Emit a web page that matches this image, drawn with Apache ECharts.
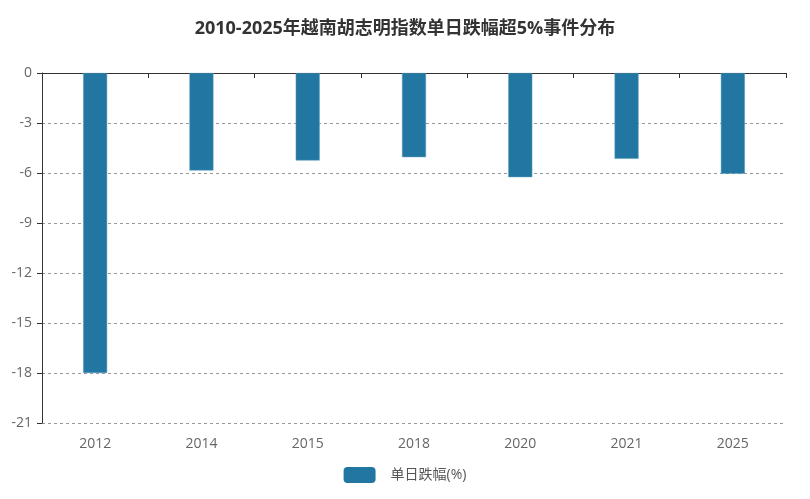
<!DOCTYPE html>
<html>
<head>
<meta charset="utf-8">
<script src="https://cdn.jsdelivr.net/npm/echarts@6/dist/echarts.min.js"></script>
<style>html,body{margin:0;padding:0;background:#fff}#c{width:810px;height:499px}</style>
</head>
<body>
<div id="c"></div>
<script>
var categories = ['2012', '2014', '2015', '2018', '2020', '2021', '2025'];
var dropValues = [-18.0, -5.85, -5.25, -5.05, -6.25, -5.15, -6.05];
var seriesName = '单日跌幅(%)';
var titleText = '2010-2025年越南胡志明指数单日跌幅超5%事件分布';

var chart = echarts.init(document.getElementById('c'));
chart.setOption({
  animation: false,
  textStyle: {fontFamily: '"Open Sans", "Noto Sans CJK SC", sans-serif'},
  title: {
    text: titleText,
    left: 'center',
    top: 15,
    textStyle: {fontSize: 18, fontWeight: 'bold', color: '#333', fontFamily: '"Open Sans", "Noto Sans CJK SC", sans-serif'}
  },
  legend: {
    bottom: 11,
    left: 'center',
    itemWidth: 32,
    itemHeight: 16,
    itemGap: 10,
    itemStyle: {borderWidth: 0},
    textStyle: {fontSize: 14, color: '#555', padding: [0, 0, 0, 10]},
    data: [seriesName]
  },
  grid: {left: 42, right: 24, top: 73, bottom: 76, containLabel: false},
  xAxis: [{
    type: 'category',
    data: categories,
    position: 'bottom',
    axisLine: {show: false, onZero: false},
    axisTick: {show: false},
    axisLabel: {fontSize: 14, color: '#666', margin: 14}
  }, {
    type: 'category',
    data: categories,
    position: 'bottom',
    axisLine: {show: true, onZero: true, lineStyle: {color: '#333', width: 1}},
    axisTick: {show: true, length: 5, lineStyle: {color: '#333'}},
    axisLabel: {show: false}
  }],
  yAxis: {
    type: 'value',
    min: -21,
    max: 0,
    interval: 3,
    axisLine: {show: true, lineStyle: {color: '#333'}},
    axisTick: {show: true, length: 5},
    axisLabel: {fontSize: 14, color: '#666', margin: 10},
    splitLine: {show: true, lineStyle: {type: [3, 3], color: '#999'}}
  },
  series: [{
    name: seriesName,
    type: 'bar',
    xAxisIndex: 0,
    data: dropValues,
    barWidth: 24,
    itemStyle: {color: '#2277a2', borderColor: '#5b9cbf', borderWidth: 0.5}
  }]
});
</script>
</body>
</html>
